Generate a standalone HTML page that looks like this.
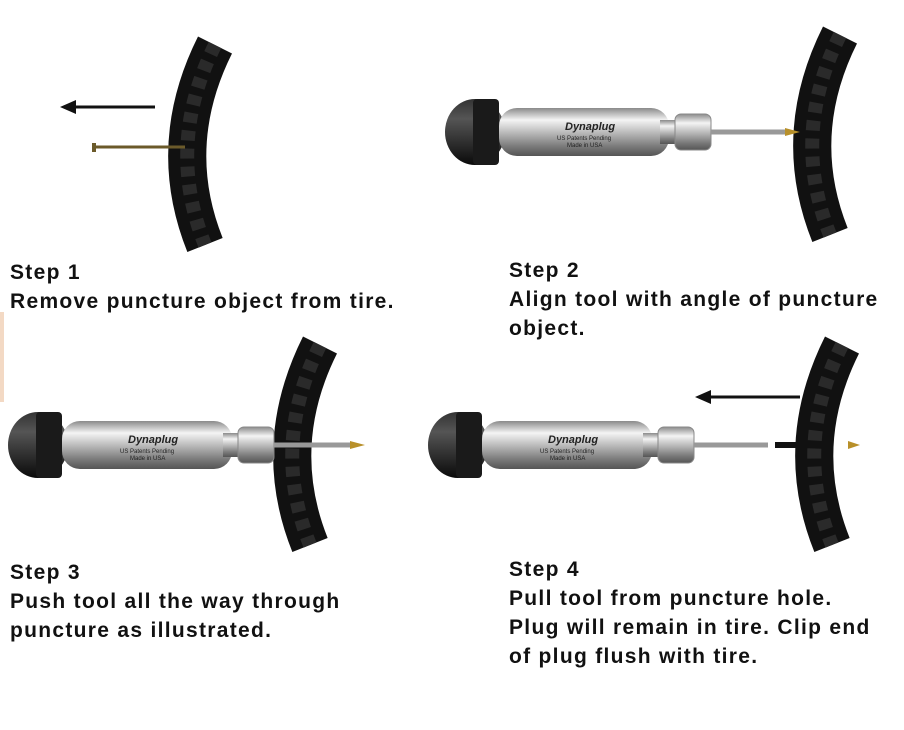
<!DOCTYPE html>
<html><head><meta charset="utf-8"><style>
html,body{margin:0;padding:0;background:#fff;width:904px;height:730px;overflow:hidden}
svg{position:absolute;left:0;top:0}
.t{position:absolute;font-family:"Liberation Sans",sans-serif;font-weight:bold;font-size:21px;letter-spacing:1.3px;line-height:29px;color:#111;white-space:nowrap}
</style></head><body>
<svg width="904" height="730" viewBox="0 0 904 730">
<defs>
<linearGradient id="met" x1="0" y1="0" x2="0" y2="1">
<stop offset="0" stop-color="#8a8a8a"/><stop offset="0.25" stop-color="#f4f4f4"/><stop offset="0.5" stop-color="#bdbdbd"/><stop offset="0.8" stop-color="#7a7a7a"/><stop offset="1" stop-color="#555"/>
</linearGradient>
<linearGradient id="cap" x1="0" y1="0" x2="0" y2="1">
<stop offset="0" stop-color="#333"/><stop offset="0.3" stop-color="#555"/><stop offset="1" stop-color="#0a0a0a"/>
</linearGradient>
<g id="tool">
<ellipse cx="30" cy="0" rx="30" ry="33" fill="url(#cap)"/>
<rect x="28" y="-33" width="26" height="66" rx="4" fill="#1a1a1a"/>
<rect x="54" y="-24" width="170" height="48" rx="18" fill="url(#met)"/>
<rect x="215" y="-12" width="20" height="24" fill="url(#met)"/>
<rect x="230" y="-18" width="36" height="36" rx="6" fill="url(#met)" stroke="#888" stroke-width="1"/>
<text x="120" y="-2" font-family="Liberation Sans" font-weight="bold" font-style="italic" font-size="11" fill="#222">Dynaplug</text>
<text x="112" y="8" font-family="Liberation Sans" font-size="6" fill="#222">US Patents Pending</text>
<text x="122" y="15" font-family="Liberation Sans" font-size="6" fill="#222">Made in USA</text>
</g>
<g id="tire">
<path d="M30,0 Q-20,100 20,200" fill="none" stroke="#111" stroke-width="38"/>
<path d="M30,0 Q-20,100 20,200" fill="none" stroke="#2a2a2a" stroke-width="14" stroke-dasharray="10 8"/>
</g>
</defs>
<rect x="0" y="312" width="4" height="90" fill="#f3d9c4"/>
<use href="#tire" x="185" y="45"/>
<line x1="155" y1="107" x2="72" y2="107" stroke="#111" stroke-width="3"/>
<polygon points="60,107 76,100 76,114" fill="#111"/>
<line x1="95" y1="147" x2="185" y2="147" stroke="#6b5a2a" stroke-width="3"/>
<rect x="92" y="143" width="4" height="9" fill="#6b5a2a"/>
<use href="#tire" x="810" y="35"/>
<use href="#tool" x="445" y="132"/>
<line x1="711" y1="132" x2="785" y2="132" stroke="#999" stroke-width="5"/>
<polygon points="785,128 800,132 785,136" fill="#b8902a"/>
<use href="#tire" x="290" y="345"/>
<use href="#tool" x="8" y="445"/>
<line x1="274" y1="445" x2="350" y2="445" stroke="#999" stroke-width="5"/>
<polygon points="350,441 365,445 350,449" fill="#b8902a"/>
<use href="#tire" x="812" y="345"/>
<use href="#tool" x="428" y="445"/>
<line x1="694" y1="445" x2="768" y2="445" stroke="#999" stroke-width="5"/>
<line x1="775" y1="445" x2="812" y2="445" stroke="#111" stroke-width="6"/>
<polygon points="848,441 860,445 848,449" fill="#b8902a"/>
<line x1="800" y1="397" x2="708" y2="397" stroke="#111" stroke-width="3"/>
<polygon points="695,397 711,390 711,404" fill="#111"/>
</svg>
<div class="t" style="left:10px;top:258px">Step 1<br>Remove puncture object from tire.</div>
<div class="t" style="left:509px;top:256px">Step 2<br>Align tool with angle of puncture<br>object.</div>
<div class="t" style="left:10px;top:558px">Step 3<br>Push tool all the way through<br>puncture as illustrated.</div>
<div class="t" style="left:509px;top:555px">Step 4<br>Pull tool from puncture hole.<br>Plug will remain in tire. Clip end<br>of plug flush with tire.</div>
</body></html>
